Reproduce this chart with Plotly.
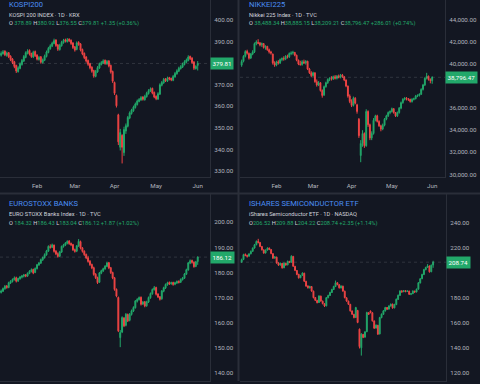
import plotly.graph_objects as go
import pandas as pd

dates = [d.strftime('%Y-%m-%d') for d in pd.bdate_range('2025-01-07', '2025-06-02')]
month_ticks = ['2025-02-03', '2025-03-03', '2025-04-01', '2025-05-01', '2025-06-02']
month_labels = ['Feb', 'Mar', 'Apr', 'May', 'Jun']

# ---------------- KOSPI 200 ----------------
kospi_open = [383.6,384.3,385.5,383.5,384.8,383.2,381.9,380.6,378.9,376.0,377.5,379.3,380.9,382.6,384.5,385.9,384.4,382.8,385.3,383.7,
              381.6,382.9,380.2,381.3,383.0,384.9,386.6,387.8,389.0,390.7,388.4,386.2,388.0,389.4,390.8,389.9,391.1,390.6,389.3,387.5,
              386.3,389.6,388.9,386.3,384.5,382.8,381.2,379.7,378.1,376.5,373.8,375.9,377.7,379.3,380.0,381.3,379.6,381.0,378.9,376.1,
              371.0,365.0,356.0,341.0,346.5,338.5,348.5,350.7,354.5,356.6,357.9,359.4,360.8,362.2,362.9,364.3,363.0,364.4,365.8,367.0,
              368.3,366.4,364.6,363.3,365.6,369.7,370.8,372.7,371.6,373.3,372.9,372.0,373.6,375.0,376.2,377.4,378.1,379.3,380.4,381.2,
              383.1,382.3,380.5,377.4,378.89]
kospi_high = [385.4,386.0,385.9,385.3,385.1,383.6,382.3,381.0,379.2,378.5,380.3,381.9,383.7,385.4,386.4,386.3,384.8,385.7,385.8,384.1,
              383.3,383.2,382.1,383.9,385.8,387.5,388.7,389.9,391.3,391.0,388.8,388.9,390.3,391.2,391.3,391.6,391.4,390.9,389.7,387.9,
              390.0,390.1,389.2,386.7,384.9,383.2,381.6,380.1,378.5,376.9,376.8,378.6,380.2,380.9,381.7,381.6,381.4,381.3,379.3,376.5,
              371.4,365.4,356.5,349.5,347.0,350.5,352.0,355.5,357.6,358.8,360.3,361.7,363.1,363.8,364.7,364.6,365.3,366.7,367.9,368.7,
              368.6,366.8,365.0,366.5,370.6,371.7,373.1,373.0,373.7,373.6,373.2,374.5,375.9,377.1,378.3,379.0,380.2,381.3,382.1,383.6,
              383.4,382.7,380.9,379.0,380.92]
kospi_low = [383.0,383.9,383.2,382.9,382.3,380.9,379.5,377.6,375.4,375.6,377.1,378.8,380.5,382.2,384.0,383.5,382.4,382.3,382.8,381.2,
             381.1,379.7,379.8,380.9,382.6,384.5,386.2,387.4,388.7,387.5,385.6,385.8,387.6,389.0,389.5,389.5,389.7,388.4,386.5,385.3,
             385.9,388.0,385.4,383.6,381.8,380.2,378.7,377.1,375.5,373.2,373.4,375.5,377.3,378.9,379.6,379.2,379.2,378.0,375.1,370.8,
             365.2,359.4,342.0,339.5,333.5,337.0,347.2,350.2,354.0,356.1,357.4,358.9,360.3,361.8,362.5,362.6,362.6,364.0,365.4,366.6,
             365.5,363.7,362.8,362.9,365.2,369.2,370.4,371.2,371.2,372.0,371.6,371.6,373.2,374.6,375.8,377.0,377.7,378.9,380.0,380.8,
             381.4,379.6,376.8,377.0,376.55]
kospi_close = [384.5,385.2,383.8,384.6,382.9,381.5,380.2,378.4,376.3,377.8,379.6,381.2,383.0,384.8,385.6,384.1,383.0,385.0,383.4,381.8,
               382.6,380.4,381.5,383.2,385.1,386.8,388.0,389.2,390.4,388.1,386.4,388.2,389.6,390.5,390.1,390.8,390.3,389.0,387.2,386.0,
               389.3,388.6,386.0,384.2,382.5,380.9,379.4,377.8,376.2,374.0,376.1,377.9,379.5,380.2,381.0,379.8,380.7,378.6,375.8,371.6,
               366.0,360.2,343.5,347.8,341.0,349.2,351.0,354.8,356.9,358.2,359.6,361.0,362.4,363.1,364.0,363.2,364.6,366.0,367.2,368.0,
               366.1,364.3,363.5,365.8,369.9,371.0,372.4,371.8,373.0,372.6,372.2,373.8,375.2,376.4,377.6,378.3,379.5,380.6,381.4,382.8,
               382.0,380.2,377.6,378.46,379.81]
kospi_ticks = [330, 340, 350, 360, 370, 390, 400]

# ---------------- NIKKEI 225 ----------------
nikkei_open = [39900,40250,40700,41150,40950,40550,40900,41100,41850,41950,41900,41750,41850,41500,41600,41300,41100,40900,40100,39900,
               40200,40100,40400,40500,40450,40700,40650,40950,41000,41050,40800,40350,40000,39950,40200,40100,40250,39550,39200,38950,
               39200,38400,38100,38300,37600,37200,37950,38300,38600,38700,38650,38850,38700,38900,38800,39000,38850,38550,38000,37100,
               36600,36250,36900,36300,35000,31700,32800,33700,32600,35700,34500,33300,33700,34900,35300,34800,34400,34100,34450,35000,
               35300,35600,35700,35950,35600,35300,35600,36000,36500,36800,36900,36850,36800,36600,36800,36850,37100,37150,37250,37700,
               38100,38700,38900,38600,38488.34]
nikkei_high = [40400,40800,41250,41300,41050,41000,41250,41950,42150,42250,42000,41950,41900,41700,41650,41400,41200,40950,40250,40300,
               40350,40500,40600,40700,40800,40850,41050,41150,41200,41100,40850,40400,40300,40350,40400,40350,40300,39650,39350,39300,
               39250,38600,38450,38350,37700,38050,38400,38700,38800,38900,38950,39000,39000,39050,39100,39100,38900,38600,38050,37250,
               36800,37050,37000,36400,35100,33100,34000,33800,35900,35800,34600,33900,35100,35400,35400,34900,34500,34600,35100,35400,
               35700,35800,36050,36000,35650,35700,36100,36600,36900,37000,37000,36900,36850,36900,36950,37200,37250,37350,37800,38200,
               38800,39200,38950,38700,38885.15]
nikkei_low = [39750,40150,40600,40850,40400,40450,40800,41000,41700,41800,41600,41550,41400,41300,41200,40950,40850,39950,39750,39800,
              39950,40000,40250,40300,40350,40500,40550,40800,40850,40700,40250,39900,39850,39850,40000,39950,39450,39100,38800,38850,
              38300,37950,38000,37500,36950,37100,37850,38200,38450,38500,38550,38600,38600,38700,38700,38750,38450,37900,36950,36450,
              36100,36150,36350,35500,33300,31100,32500,32400,32500,34300,33100,33100,33600,34800,34700,34300,33900,34000,34350,34900,
              35200,35450,35600,35500,35200,35200,35500,35900,36400,36700,36700,36650,36500,36500,36700,36800,37000,37050,37200,37600,
              38000,38600,38500,38250,38209.21]
nikkei_close = [40230,40700,41130,40980,40530,40900,41100,41850,42000,41880,41730,41850,41500,41600,41300,41100,41000,40100,39900,40200,
                40100,40400,40500,40450,40700,40650,40950,41000,41050,40800,40350,40000,39950,40200,40100,40250,39550,39200,38950,39200,
                38400,38100,38300,37600,37150,37950,38300,38600,38700,38650,38850,38700,38900,38800,39000,38850,38550,38000,37100,36600,
                36250,36900,36450,35700,33500,32800,33700,32600,35700,34500,33300,33700,34900,35300,34800,34400,34100,34450,35000,35300,
                35600,35700,35950,35600,35300,35600,36000,36500,36800,36900,36850,36800,36600,36800,36850,37100,37150,37250,37700,38100,
                38700,38900,38600,38510.46,38796.47]
nikkei_ticks = [30000, 32000, 34000, 36000, 40000, 42000, 44000]

# ---------------- EURO STOXX BANKS ----------------
banks_open = [172.0,172.5,173.5,174.6,174.0,175.8,176.4,177.1,177.9,176.6,177.5,178.1,178.5,179.1,178.6,179.6,180.4,181.2,180.0,181.5,
              183.0,183.7,185.0,185.9,187.0,188.5,190.3,190.0,190.9,188.5,187.5,186.5,188.1,190.3,190.9,191.6,192.5,191.6,191.1,189.1,
              188.5,190.5,192.3,189.8,188.5,187.2,185.9,184.5,183.2,181.9,179.3,178.0,176.1,179.7,180.6,181.4,182.4,183.9,181.9,180.0,
              177.9,173.3,170.0,154.0,156.2,161.8,158.9,163.2,160.9,163.2,164.6,165.9,168.5,169.2,170.1,167.4,168.3,166.7,168.2,169.9,
              171.5,173.1,174.0,171.4,170.3,169.5,172.5,173.8,175.1,176.0,175.5,176.0,175.3,175.8,176.5,176.1,177.1,177.7,179.3,181.0,
              183.7,184.8,184.1,182.4,184.32]
banks_high = [173.2,174.0,175.0,175.0,176.3,176.9,177.6,178.4,178.3,177.9,178.6,179.0,179.4,179.3,180.0,180.9,181.6,181.5,182.0,183.4,
              184.2,185.5,186.3,187.6,189.0,190.8,191.2,191.5,191.1,188.9,188.0,188.6,190.7,191.4,192.1,192.8,192.9,191.9,191.4,189.5,
              190.9,193.3,192.7,190.1,188.8,187.5,186.6,184.9,183.5,182.3,179.7,178.3,180.2,181.1,181.9,182.9,184.3,184.2,182.2,180.3,
              178.2,173.6,170.4,157.0,162.5,162.2,163.8,163.6,163.8,165.2,166.5,169.0,169.7,170.4,170.4,168.6,168.6,168.7,170.4,172.0,
              173.6,174.6,174.3,171.7,170.6,173.0,174.3,175.6,176.3,176.4,176.3,176.3,176.3,176.8,176.8,177.6,178.2,179.8,181.5,184.2,
              185.2,185.1,184.4,184.6,186.43]
banks_low = [171.6,172.2,173.1,173.5,173.7,175.4,176.0,176.8,176.0,176.2,177.1,177.6,178.0,178.1,178.2,179.3,180.0,179.3,179.7,181.2,
             182.6,183.4,184.6,185.5,186.7,188.2,189.5,189.7,187.9,186.9,185.9,186.1,187.8,189.9,190.5,191.2,191.0,190.5,188.6,187.9,
             188.1,190.2,189.2,187.9,186.6,185.3,183.9,182.6,181.3,178.7,177.4,175.4,175.8,179.3,180.2,181.1,182.1,181.3,179.4,177.3,
             172.7,170.1,156.2,150.2,155.8,158.2,158.5,160.2,160.5,162.8,164.2,165.6,168.0,168.8,166.8,167.0,166.1,166.3,167.8,169.5,
             171.1,172.8,170.8,169.8,168.8,169.1,172.1,173.4,174.7,175.0,175.1,174.7,174.9,175.4,175.6,175.8,176.8,177.4,179.0,180.7,
             183.3,183.5,181.9,182.1,183.04]
banks_close = [172.6,173.6,174.5,174.0,175.9,176.5,177.2,177.8,176.5,177.6,178.2,178.6,179.0,178.5,179.7,180.5,181.1,179.8,181.6,183.1,
               183.8,185.1,186.0,187.1,188.6,190.4,190.0,191.0,188.4,187.4,186.4,188.2,190.4,191.0,191.7,192.4,191.5,191.0,189.0,188.4,
               190.6,192.4,189.7,188.4,187.1,185.8,184.4,183.1,181.8,179.2,177.9,175.9,179.8,180.7,181.5,182.5,183.8,181.8,179.9,177.8,
               173.2,170.6,156.7,156.0,162.0,158.7,163.3,160.7,163.3,164.7,166.0,168.6,169.3,170.0,167.3,168.2,166.6,168.3,170.0,171.6,
               173.2,173.9,171.3,170.2,169.3,172.6,173.9,175.2,175.9,175.4,175.9,175.2,175.9,176.4,176.0,177.2,177.8,179.4,181.1,183.8,
               184.7,184.0,182.3,184.25,186.12]
banks_ticks = [140, 150, 160, 170, 180, 190, 200]

# ---------------- ISHARES SEMICONDUCTOR ETF ----------------
soxx_open = [209.0,210.9,214.9,214.3,213.6,215.5,217.5,220.1,222.8,225.5,224.5,221.3,218.6,216.2,218.5,220.1,218.9,215.6,212.1,212.8,
             208.2,206.5,207.7,204.3,207.9,206.6,209.4,208.7,213.4,205.4,202.1,199.0,196.3,198.2,199.9,193.4,189.7,188.1,189.2,185.5,
             180.4,178.1,176.4,181.5,177.5,175.4,173.7,180.2,182.0,184.4,186.8,189.2,192.3,190.7,188.1,189.5,185.5,180.2,177.5,174.9,
             169.6,166.9,164.4,170.0,155.0,140.0,150.8,148.6,153.0,168.2,169.5,168.2,161.6,155.9,158.1,151.2,164.2,166.9,169.6,172.4,
             171.1,173.5,175.1,172.1,174.7,178.9,182.1,185.5,185.1,185.9,185.3,185.5,183.1,183.5,185.5,184.9,187.1,192.1,195.5,198.8,
             202.7,204.6,205.7,201.1,206.52]
soxx_high = [211.6,215.5,215.8,214.7,216.0,218.2,220.6,223.4,226.2,227.5,225.0,221.8,219.1,219.0,220.7,220.5,219.3,216.0,213.6,213.2,
             208.6,208.5,208.1,208.5,208.3,210.0,209.8,214.3,213.8,205.8,202.5,199.4,198.6,200.6,200.3,193.8,190.1,189.8,189.6,185.9,
             180.8,178.5,182.2,181.9,177.9,175.8,180.8,182.6,185.0,187.4,189.8,194.0,192.7,191.1,190.2,189.9,185.9,180.6,177.9,175.3,
             170.0,167.3,172.9,170.5,155.5,151.8,151.2,153.5,169.0,168.6,170.0,168.6,162.0,158.8,158.5,164.9,167.6,170.3,172.9,172.8,
             174.2,175.6,175.5,175.4,179.6,182.8,186.2,186.4,186.4,186.3,186.2,185.9,184.0,186.2,185.9,187.6,192.8,196.0,199.5,203.4,
             205.1,207.2,206.1,206.8,209.88]
soxx_low = [208.2,210.4,213.5,212.4,213.1,215.0,217.0,219.6,222.3,223.8,220.8,218.1,215.5,215.7,218.0,218.4,215.1,211.4,211.5,207.5,
            205.8,206.0,203.6,203.9,205.9,206.2,208.0,208.3,205.0,201.6,198.3,195.6,195.9,197.7,192.9,189.0,187.6,187.7,185.0,179.7,
            177.6,175.7,176.0,177.0,174.9,172.8,173.3,179.8,181.6,184.0,186.4,188.8,190.2,187.6,187.7,185.0,179.7,177.0,174.4,169.1,
            166.4,163.7,164.0,159.8,139.5,133.8,147.8,148.2,152.6,166.4,167.7,161.1,155.2,155.5,150.4,150.8,163.8,166.5,169.2,170.4,
            170.7,173.1,171.4,171.7,174.3,178.5,181.7,184.2,184.7,184.6,184.9,182.4,182.3,183.1,184.2,184.5,186.7,191.7,195.1,198.4,
            202.3,204.2,200.4,200.7,204.22]
soxx_close = [210.8,214.8,214.2,213.5,215.4,217.4,220.0,222.7,225.4,224.6,221.4,218.7,216.1,218.4,220.0,219.0,215.7,212.0,212.9,208.1,
              206.4,207.8,204.2,208.0,206.5,209.5,208.6,213.5,205.5,202.2,198.9,196.2,198.1,200.0,193.5,189.6,188.2,189.3,185.6,180.3,
              178.2,176.3,181.6,177.6,175.5,173.6,180.3,182.1,184.5,186.9,189.3,192.2,190.8,188.2,189.6,185.6,180.3,177.6,175.0,169.7,
              167.0,164.3,172.3,160.4,141.0,151.0,148.4,152.8,168.3,167.0,168.3,161.7,155.8,158.2,151.0,164.3,167.0,169.7,172.3,171.0,
              173.6,175.0,172.0,174.8,179.0,182.2,185.6,185.0,185.8,185.2,185.6,183.0,183.4,185.6,184.8,187.0,192.2,195.4,198.9,202.8,
              204.5,205.8,201.0,206.39,208.74]
soxx_ticks = [120, 140, 160, 180, 220, 240]

UP = '#22a86a'
DN = '#ee4444'
BG = '#131722'
BORDER = '#2a2e39'
TXT = '#b2b5be'
BLUE = '#4a8ef5'
FONT = 'Roboto'

panels = [
    dict(o=kospi_open, h=kospi_high, l=kospi_low, c=kospi_close, ticks=kospi_ticks, fmt='.2f',
         x0=0, x1=210, y0=0, y1=178, yr=[327.4, 409.2], xr=[-0.6, 110.5], xlabels=True,
         title='KOSPI200', sub='KOSPI 200 INDEX · 1D · KRX',
         ohlc=('O ', '378.89', '380.92', '376.55', '379.81', '+1.35 (+0.36%)'), last='379.81', ty=4.5),
    dict(o=nikkei_open, h=nikkei_high, l=nikkei_low, c=nikkei_close, ticks=nikkei_ticks, fmt=',.2f',
         x0=240, x1=445, y0=0, y1=178, yr=[29793, 45805], xr=[-0.9, 111.0], xlabels=True,
         title='NIKKEI225', sub='Nikkei 225 Index · 1D · TVC',
         ohlc=('O ', '38,488.34', '38,885.15', '38,209.21', '38,796.47', '+286.01 (+0.74%)'), last='38,796.47', ty=4.5),
    dict(o=banks_open, h=banks_high, l=banks_low, c=banks_close, ticks=banks_ticks, fmt='.2f',
         x0=0, x1=210, y0=196, y1=384, yr=[136.7, 211.1], xr=[-0.6, 110.5], xlabels=False,
         title='EUROSTOXX BANKS', sub='EURO STOXX Banks Index · 1D · TVC',
         ohlc=('O ', '184.32', '186.43', '183.04', '186.12', '+1.87 (+1.02%)'), last='186.12', ty=205.5),
    dict(o=soxx_open, h=soxx_high, l=soxx_low, c=soxx_close, ticks=soxx_ticks, fmt='.2f',
         x0=240, x1=446, y0=196, y1=384, yr=[113.4, 263.1], xr=[-0.9, 111.0], xlabels=False,
         title='ISHARES SEMICONDUCTOR ETF', sub='iShares Semiconductor ETF · 1D · NASDAQ',
         ohlc=('O', '206.52', '209.88', '204.22', '208.74', '+2.35 (+1.14%)'), last='208.74', ty=205.5),
]

W, H = 480, 384
fig = go.Figure()
layout = dict(width=W, height=H, margin=dict(l=0, r=0, t=0, b=0), paper_bgcolor=BG, plot_bgcolor=BG,
              showlegend=False, font=dict(family=FONT, color=TXT, size=6.2))
annotations = []
shapes = []

for k, p in enumerate(panels, start=1):
    sx = '' if k == 1 else str(k)
    xa, ya = 'x' + sx, 'y' + sx
    fig.add_trace(go.Candlestick(
        x=dates, open=p['o'], high=p['h'], low=p['l'], close=p['c'],
        xaxis=xa, yaxis=ya, whiskerwidth=0, hoverinfo='skip',
        increasing=dict(line=dict(color=UP, width=1), fillcolor=UP),
        decreasing=dict(line=dict(color=DN, width=1), fillcolor=DN)))
    layout['xaxis' + sx] = dict(
        domain=[p['x0'] / W, p['x1'] / W], anchor=ya, type='category', range=p['xr'],
        tickvals=month_ticks, ticktext=month_labels, showticklabels=p['xlabels'],
        rangeslider=dict(visible=False), showgrid=False, zeroline=False,
        showline=True, linecolor=BORDER, linewidth=1,
        ticks='outside', ticklen=3, tickcolor='rgba(0,0,0,0)',
        tickfont=dict(size=6.2, color=TXT, family=FONT))
    layout['yaxis' + sx] = dict(
        domain=[1 - p['y1'] / H, 1 - p['y0'] / H], anchor=xa, side='right', range=p['yr'],
        tickvals=p['ticks'], tickformat=p['fmt'], showgrid=False, zeroline=False,
        showline=True, linecolor=BORDER, linewidth=1,
        ticks='outside', ticklen=2, tickcolor='rgba(0,0,0,0)',
        tickfont=dict(size=6.2, color=TXT, family=FONT))
    last_val = p['c'][-1]
    shapes.append(dict(type='line', xref=xa + ' domain', yref=ya, x0=0, x1=1, y0=last_val, y1=last_val,
                       line=dict(color='rgba(150,155,165,0.22)', width=1, dash='dot')))
    annotations.append(dict(xref='paper', yref=ya, x=(p['x1'] - 0.5) / W, y=last_val, xanchor='left', yanchor='middle',
                            text=p['last'], showarrow=False, bgcolor=UP, borderpad=1.5,
                            font=dict(size=6.2, color='#ffffff', family=FONT)))
    tx = (p['x0'] + 7) / W
    ty = p['ty']
    annotations.append(dict(xref='paper', yref='paper', x=tx, y=1 - ty / H, xanchor='left', yanchor='middle',
                            text=p['title'], showarrow=False, font=dict(size=7.6, color=BLUE, family=FONT)))
    annotations.append(dict(xref='paper', yref='paper', x=tx, y=1 - (ty + 10.5) / H, xanchor='left', yanchor='middle',
                            text=p['sub'], showarrow=False, font=dict(size=5.7, color='#d1d4dc', family=FONT)))
    lo, vo, vh, vl, vc, chg = p['ohlc']
    g = "<span style='color:%s'>%s</span>"
    ohlc_text = (lo + g % (UP, vo) + ' H' + g % (UP, vh) + ' L' + g % (UP, vl) + ' C' + g % (UP, vc) + ' ' + g % (UP, chg))
    annotations.append(dict(xref='paper', yref='paper', x=tx, y=1 - (ty + 19.5) / H, xanchor='left', yanchor='middle',
                            text=ohlc_text, showarrow=False, font=dict(size=5.7, color='#d1d4dc', family=FONT)))

# panel separators
shapes.append(dict(type='line', xref='paper', yref='paper', x0=0, x1=1, y0=1 - 195 / H, y1=1 - 195 / H,
                   line=dict(color=BORDER, width=2)))
shapes.append(dict(type='line', xref='paper', yref='paper', x0=238.5 / W, x1=238.5 / W, y0=0, y1=1,
                   line=dict(color=BORDER, width=2)))

layout['annotations'] = annotations
layout['shapes'] = shapes
fig.update_layout(**layout)
fig.write_html('out.html')
